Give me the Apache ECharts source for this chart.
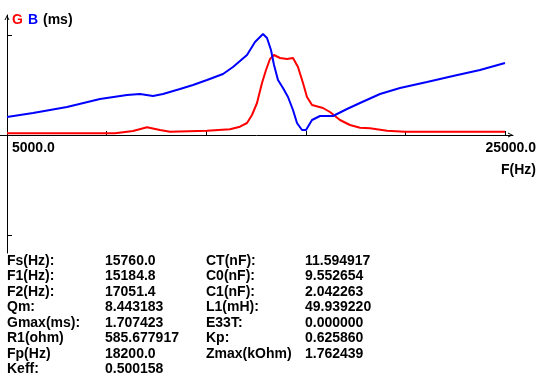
<!DOCTYPE html>
<html><head><meta charset="utf-8">
<script src="https://cdn.jsdelivr.net/npm/echarts@6/dist/echarts.min.js"></script>
<style>html,body{margin:0;padding:0;background:#fff}#c{width:539px;height:381px}</style>
</head><body><div id="c"></div>
<script>
// Conductance G (red) and susceptance B (blue), relative units
const gFreq = [5000, 9337, 10060, 10622, 11144, 11546, 13032, 13956, 14357, 14638, 14839, 15040, 15241, 15402, 15562, 15723, 15964, 16245, 16486, 16686, 16887, 17048, 17249, 17690, 17971, 18373, 18775, 19176, 19578, 20261, 20984, 25000];
const gVals = [0.017, 0.017, 0.04, 0.077, 0.05, 0.033, 0.043, 0.057, 0.083, 0.12, 0.20, 0.32, 0.52, 0.65, 0.76, 0.80, 0.77, 0.76, 0.77, 0.68, 0.52, 0.38, 0.30, 0.27, 0.23, 0.15, 0.10, 0.073, 0.067, 0.043, 0.033, 0.033];
const bFreq = [5000, 6044, 7410, 8735, 9819, 10341, 10863, 11265, 11948, 12470, 13032, 13675, 14076, 14638, 14960, 15281, 15442, 15602, 15723, 15883, 16084, 16285, 16486, 16646, 16847, 17008, 17249, 17570, 18092, 18654, 19176, 19980, 20783, 21867, 22911, 23996, 25000];
const bVals = [0.18, 0.22, 0.28, 0.36, 0.40, 0.41, 0.39, 0.41, 0.46, 0.50, 0.55, 0.61, 0.68, 0.80, 0.93, 1.01, 0.97, 0.85, 0.70, 0.55, 0.47, 0.38, 0.25, 0.12, 0.05, 0.05, 0.15, 0.19, 0.19, 0.26, 0.32, 0.41, 0.47, 0.53, 0.59, 0.65, 0.72];
const xTicks = [5000, 9000, 13000, 17000, 21000, 25000];
const yTicks = [-1, 1];
const xMinLabel = '5000.0';
const xMaxLabel = '25000.0';
const xName = 'F(Hz)';
const legendParts = ['G', 'B', '(ms)'];
const paramLabels1 = ['Fs(Hz):', 'F1(Hz):', 'F2(Hz):', 'Qm:', 'Gmax(ms):', 'R1(ohm)', 'Fp(Hz)', 'Keff:'];
const paramValues1 = ['15760.0', '15184.8', '17051.4', '8.443183', '1.707423', '585.677917', '18200.0', '0.500158'];
const paramLabels2 = ['CT(nF):', 'C0(nF):', 'C1(nF):', 'L1(mH):', 'E33T:', 'Kp:', 'Zmax(kOhm)'];
const paramValues2 = ['11.594917', '9.552654', '2.042263', '49.939220', '0.000000', '0.625860', '1.762439'];

const FONT = 'bold 14px "Liberation Sans", Arial, sans-serif';
const chevron = 'path://M0,10L5,0L10,10L8,10L5,4L2,10Z';

const chart = echarts.init(document.getElementById('c'), null, {renderer: 'canvas'});

const gData = gFreq.map((f, i) => [f, gVals[i]]);
const bData = bFreq.map((f, i) => [f, bVals[i]]);

const graphics = [];
function addText(t, x, y, align, color) {
  graphics.push({type: 'text', x: x, y: y, silent: true,
    style: {text: t, font: FONT, fill: color || '#000', align: align || 'left', verticalAlign: 'middle'}});
}
addText(xMinLabel, 12, 148, 'left');
addText(xMaxLabel, 536, 148, 'right');
paramLabels1.forEach((t, i) => addText(t, 7, 261 + 15.5 * i));
paramValues1.forEach((t, i) => addText(t, 105, 261 + 15.5 * i));
paramLabels2.forEach((t, i) => addText(t, 206, 261 + 15.5 * i));
paramValues2.forEach((t, i) => addText(t, 305, 261 + 15.5 * i));

chart.setOption({
  animation: false,
  backgroundColor: '#fff',
  title: {
    text: '{g|' + legendParts[0] + '} {b|' + legendParts[1] + '} {k|' + legendParts[2] + '}',
    left: 12, top: 11, padding: 0,
    textStyle: {
      rich: {
        g: {color: '#ff0000', fontWeight: 'bold', fontSize: 14, fontFamily: '"Liberation Sans", Arial'},
        b: {color: '#0000ff', fontWeight: 'bold', fontSize: 14, fontFamily: '"Liberation Sans", Arial'},
        k: {color: '#000', fontWeight: 'bold', fontSize: 14, fontFamily: '"Liberation Sans", Arial'}
      }
    }
  },
  grid: {left: 0, right: 26, top: 15, bottom: 128, containLabel: false, outerBoundsMode: 'none'},
  xAxis: {
    type: 'value', min: 4719, max: 25321,
    name: xName, nameLocation: 'end', nameGap: 23,
    nameTextStyle: {color: '#000', fontWeight: 'bold', fontSize: 14, fontFamily: '"Liberation Sans", Arial', align: 'right', verticalAlign: 'top', padding: [28, 0, 0, 0]},
    axisLine: {onZero: true, lineStyle: {color: '#000', width: 1}, symbol: ['none', chevron], symbolSize: [9, 5], symbolOffset: [0, -2.5]},
    axisTick: {show: true, inside: true, length: 4, customValues: xTicks, lineStyle: {color: '#000'}},
    axisLabel: {show: false},
    splitLine: {show: false}
  },
  yAxis: {
    type: 'value', min: -1.18, max: 1.2, offset: -7,
    axisLine: {show: true, onZero: false, lineStyle: {color: '#000', width: 1}, symbol: ['none', chevron], symbolSize: [10, 5], symbolOffset: [0, -2.5]},
    axisTick: {show: true, inside: true, length: 5, customValues: yTicks, lineStyle: {color: '#000'}},
    axisLabel: {show: false},
    splitLine: {show: false}
  },
  series: [
    {type: 'line', name: 'G', data: gData, showSymbol: false, symbol: 'none', lineStyle: {color: '#ff0000', width: 2}, itemStyle: {color: '#ff0000'}, z: 2},
    {type: 'line', name: 'B', data: bData, showSymbol: false, symbol: 'none', lineStyle: {color: '#0000ff', width: 2}, itemStyle: {color: '#0000ff'}, z: 3}
  ],
  graphic: graphics
});
</script>
</body></html>
